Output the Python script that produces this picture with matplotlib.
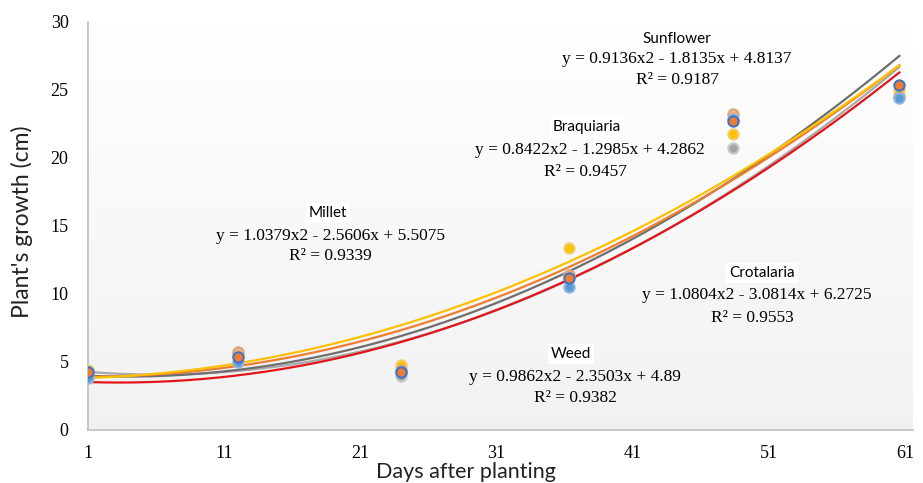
import numpy as np
import matplotlib
matplotlib.use("Agg")
import matplotlib.pyplot as plt

# ---- data ----
days = [1, 12, 24, 36.3, 48.4, 60.6]
series_names = ["Sunflower", "Braquiaria", "Millet", "Crotalaria", "Weed"]
sunflower = [4.3, 5.4, 4.3, 11.2, 22.7, 25.4]
braquiaria = [4.4, 5.6, 4.8, 13.4, 21.8, 25.0]
millet = [4.2, 5.5, 4.0, 11.3, 20.7, 24.6]
crotalaria = [3.8, 5.0, 4.3, 10.5, 22.9, 24.4]
weed = [4.3, 5.7, 4.4, 11.4, 23.2, 24.5]
values = [sunflower, braquiaria, millet, crotalaria, weed]
# quadratic trend coefficients (a, b, c) in sample index 1..6
coef_sunflower = (0.9136, -1.8135, 4.8137)
coef_braquiaria = (0.8422, -1.2985, 4.2862)
coef_millet = (1.0379, -2.5606, 5.5075)
coef_crotalaria = (1.0804, -3.0814, 6.2725)
coef_weed = (0.9862, -2.3503, 4.89)
coefs = [coef_sunflower, coef_braquiaria, coef_millet, coef_crotalaria, coef_weed]
eq_texts = ["y = 0.9136x2 - 1.8135x + 4.8137", "y = 0.8422x2 - 1.2985x + 4.2862",
            "y = 1.0379x2 - 2.5606x + 5.5075", "y = 1.0804x2 - 3.0814x + 6.2725",
            "y = 0.9862x2 - 2.3503x + 4.89"]
r2_texts = ["R² = 0.9187", "R² = 0.9457", "R² = 0.9339", "R² = 0.9553", "R² = 0.9382"]
xticks = [1, 11, 21, 31, 41, 51, 61]
yticks = [0, 5, 10, 15, 20, 25, 30]

# ---- styles ----
line_colors = ["#ED7D31", "#FFC000", "#6E6E6E", "#A9A9A9", "#E3151A"]
marker_face = ["#ED7D31", "#FFC000", "#A5A5A5", "#5B9BD5", "#F4B183"]
marker_edge = ["#4472C4", "#F2CF6A", "#C9C9C9", "#8FB5E2", "#D9A77E"]
label_pos = [(677, 39), (587, 127), (328, 213), (762, 273), (571, 354)]
eq_pos = [(677, 59), (590, 150), (330, 236), (757, 295), (575, 377)]
r2_pos = [(677, 80), (585, 172), (330, 256), (752, 318), (575, 398)]

W, H = 923, 483
fig = plt.figure(figsize=(W / 100, H / 100), dpi=100)
ax = fig.add_axes([88 / W, 1 - 430 / H, (913 - 88) / W, (430 - 22) / H])

# background gradient (light gray at bottom fading to white at top)
g = np.linspace(0.935, 1.0, 256) ** 0.8
grad = np.repeat(g[:, None], 2, axis=1)
rgb = np.dstack([grad, grad, grad])
ax.imshow(rgb, extent=[1, 61.6, 0, 30], origin="lower", aspect="auto", zorder=0,
          interpolation="bilinear")

t = np.linspace(1, 6, 200)
tday = days[0] + (t - 1) * (days[-1] - days[0]) / 5
order = [3, 2, 0, 1, 4]
for i in order:
    a, b, c = coefs[i]
    ax.plot(tday, a * t ** 2 + b * t + c, color=line_colors[i], lw=1.6, zorder=2)

for i in [2, 1, 4, 3, 0]:
    ax.scatter(days, values[i], s=55, facecolor=marker_face[i], edgecolor=marker_edge[i],
               linewidth=1.5, zorder=3)

ax.set_xlim(1, 61.6)
ax.set_ylim(0, 30)
ax.set_xticks(xticks)
ax.set_yticks(yticks)
ax.tick_params(length=0, labelsize=13, pad=14)
for lab in ax.get_xticklabels() + ax.get_yticklabels():
    lab.set_fontfamily("Liberation Serif")
ax.tick_params(axis="x", pad=11)
for s in ["top", "right"]:
    ax.spines[s].set_visible(False)
for s in ["left", "bottom"]:
    ax.spines[s].set_color("#BFBFBF")
    ax.spines[s].set_linewidth(1.2)

fig.text(22 / W, 1 - 222 / H, "Plant's growth (cm)", fontsize=16.5, family="Lato",
         rotation=90, ha="center", va="center", color="#222222")
fig.text(466 / W, 1 - 482 / H, "Days after planting", fontsize=15.5, family="Lato",
         ha="center", va="bottom", color="#222222")

for i in range(5):
    x, y = label_pos[i]
    fig.text(x / W, 1 - y / H, series_names[i], fontsize=11, family="Lato", ha="center",
             va="center", bbox=dict(facecolor="white", edgecolor="none", pad=2))
    x, y = eq_pos[i]
    fig.text(x / W, 1 - y / H, eq_texts[i], fontsize=12.5, family="Liberation Serif",
             ha="center", va="center")
    x, y = r2_pos[i]
    fig.text(x / W, 1 - y / H, r2_texts[i], fontsize=12.5, family="Liberation Serif",
             ha="center", va="center")

fig.savefig("out.png", dpi=100)
